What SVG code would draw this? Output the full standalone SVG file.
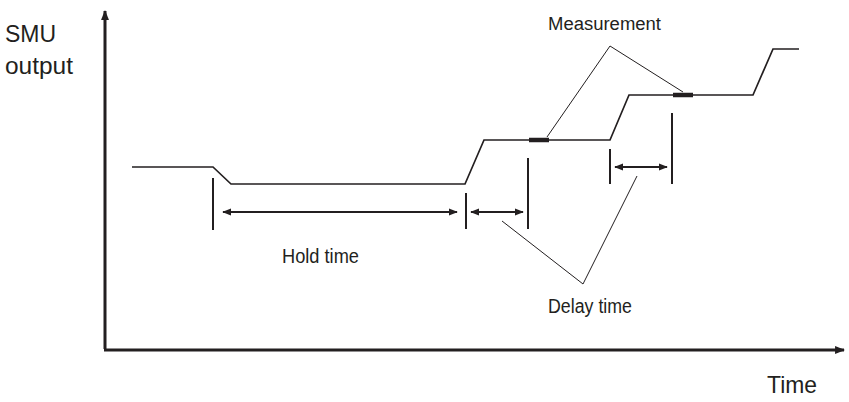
<svg xmlns="http://www.w3.org/2000/svg" width="849" height="402" viewBox="0 0 849 402">
<style>
text{font-family:"Liberation Sans",Arial,sans-serif;fill:#231f20}
.axis{stroke:#231f20;stroke-width:3;fill:none}
.wave{stroke:#231f20;stroke-width:1.7;fill:none}
.tick{stroke:#231f20;stroke-width:2;fill:none}
.dim{stroke:#231f20;stroke-width:2;fill:none;marker-start:url(#ah);marker-end:url(#ah)}
.lead{stroke:#231f20;stroke-width:1;fill:none}
.bar{stroke:#231f20;stroke-width:4.5;fill:none}
</style>
<defs>
<marker id="ah" viewBox="0 0 10 8" refX="9" refY="4" markerWidth="4.5" markerHeight="3.6" orient="auto-start-reverse" markerUnits="strokeWidth">
<path d="M0,0 L10,4 L0,8 z" fill="#231f20"/>
</marker>
<marker id="axh" viewBox="0 0 10 8" refX="9" refY="4" markerWidth="3.3" markerHeight="2.8" orient="auto" markerUnits="strokeWidth">
<path d="M0,0 L10,4 L0,8 z" fill="#231f20"/>
</marker>
</defs>
<g id="axes">
<line class="axis" x1="105" y1="349" x2="105" y2="11" marker-end="url(#axh)"/>
<line class="axis" x1="104" y1="350" x2="844" y2="350" marker-end="url(#axh)"/>
</g>
<g id="labels">
<text x="5" y="42" font-size="23">SMU</text>
<text x="5" y="74" font-size="23" textLength="68" lengthAdjust="spacingAndGlyphs">output</text>
<text x="548" y="30" font-size="18" textLength="113" lengthAdjust="spacingAndGlyphs">Measurement</text>
<text x="282" y="263" font-size="20" textLength="77" lengthAdjust="spacingAndGlyphs">Hold time</text>
<text x="548" y="313" font-size="20" textLength="84" lengthAdjust="spacingAndGlyphs">Delay time</text>
<text x="767" y="393" font-size="24" textLength="50" lengthAdjust="spacingAndGlyphs">Time</text>
</g>
<g id="waveform">
<polyline class="wave" points="132,167 213,167 231,184 465,184 484,140 610,140 629,95 753,95 773,49 799,49"/>
<line class="bar" x1="529" y1="140" x2="549" y2="140"/>
<line class="bar" x1="673" y1="95" x2="693" y2="95"/>
</g>
<g id="connectors">
<line class="tick" x1="213" y1="178" x2="213" y2="230"/>
<line class="tick" x1="466" y1="193" x2="466" y2="229"/>
<line class="tick" x1="528" y1="158" x2="528" y2="229"/>
<line class="tick" x1="610" y1="149" x2="610" y2="184"/>
<line class="tick" x1="672" y1="113" x2="672" y2="184"/>
<line class="dim" x1="223" y1="212" x2="457" y2="212"/>
<line class="dim" x1="471" y1="212" x2="523" y2="212"/>
<line class="dim" x1="615" y1="167" x2="667" y2="167"/>
<polyline class="lead" points="547,137 610,46 683,92"/>
<polyline class="lead" points="502,221 583,284 637,176"/>
</g>
</svg>
